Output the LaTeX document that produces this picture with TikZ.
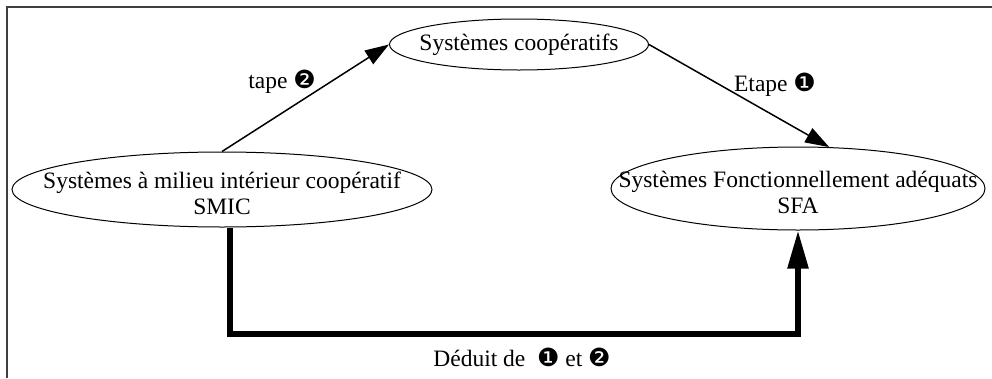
\documentclass[tikz,border=0pt]{standalone}
\usepackage{fontspec}
\setmainfont{Liberation Serif}
\newfontfamily\dingfont{DejaVu Sans}
\usetikzlibrary{shapes.geometric,arrows.meta}
\newcommand{\dingone}{{\dingfont\fontsize{25}{26}\selectfont ❶}}
\newcommand{\dingtwo}{{\dingfont\fontsize{25}{26}\selectfont ❷}}
\begin{document}
\begin{tikzpicture}[x=1pt,y=-1pt,
  every node/.style={font=\fontsize{23.5}{26}\selectfont},
  oval/.style={ellipse,draw,line width=1pt,inner sep=0pt},
  ovaltext/.style={align=center,inner sep=0pt},
  thinarrow/.style={line width=1.5pt,-{Triangle[length=24pt,width=16pt]}},
  thickarrow/.style={line width=5.5pt,-{Triangle[length=38pt,width=20pt]}},
  frameline/.style={line width=2pt,draw=black!75},
  lbl/.style={inner sep=0pt}]
  \useasboundingbox (0,0) rectangle (992,378);
  % partial frame: top and left edges
  \draw[frameline] (7,378) -- (7,7) -- (992,7);

  \node[oval,minimum width=259pt,minimum height=51pt,
        label={[ovaltext]center:Systèmes coopératifs}] (coop) at (519,44.5) {};
  \node[oval,minimum width=420pt,minimum height=75pt,
        label={[ovaltext,yshift=-4pt]center:Systèmes à milieu intérieur coopératif\\SMIC}] (smic) at (222,189.5) {};
  \node[oval,minimum width=374pt,minimum height=83pt,
        label={[ovaltext,yshift=-4pt]center:Systèmes Fonctionnellement adéquats\\SFA}] (sfa) at (798,188.5) {};

  \draw[thinarrow] (smic.north) -- (coop.west);
  \draw[thinarrow] (coop.east) -- (sfa.53);

  \coordinate (low) at (798,334);
  \draw[thickarrow] ([xshift=8pt]smic.south) |- (low) -- (sfa.south);

  \node[lbl] (l2) at (282,82) {tape \dingtwo};
  \node[lbl] (l1) at (775,85) {Etape \dingone};
  \node[lbl] (l3) at (522,357) {Déduit de \ \dingone\ et \dingtwo};
\end{tikzpicture}
\end{document}
